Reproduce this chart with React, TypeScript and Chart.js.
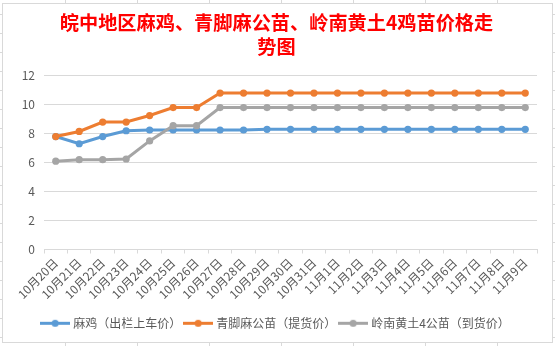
import React, { useEffect, useRef } from "react";
import { Chart, registerables } from "chart.js";

Chart.register(...registerables);

const categories = [
  "10月20日", "10月21日", "10月22日", "10月23日", "10月24日", "10月25日", "10月26日",
  "10月27日", "10月28日", "10月29日", "10月30日", "10月31日", "11月1日", "11月2日",
  "11月3日", "11月4日", "11月5日", "11月6日", "11月7日", "11月8日", "11月9日",
];

const seriesNames = ["麻鸡（出栏上车价）", "青脚麻公苗（提货价）", "岭南黄土4公苗（到货价）"];

const majiValues = [7.8, 7.3, 7.8, 8.2, 8.25, 8.25, 8.25, 8.25, 8.25, 8.3, 8.3, 8.3, 8.3, 8.3, 8.3, 8.3, 8.3, 8.3, 8.3, 8.3, 8.3];
const qingjiaoValues = [7.8, 8.15, 8.8, 8.8, 9.25, 9.8, 9.8, 10.8, 10.8, 10.8, 10.8, 10.8, 10.8, 10.8, 10.8, 10.8, 10.8, 10.8, 10.8, 10.8, 10.8];
const lingnanValues = [6.1, 6.2, 6.2, 6.25, 7.5, 8.55, 8.55, 9.8, 9.8, 9.8, 9.8, 9.8, 9.8, 9.8, 9.8, 9.8, 9.8, 9.8, 9.8, 9.8, 9.8];

const yTickValues = [0, 2, 4, 6, 8, 10, 12];

const titleLines = ["皖中地区麻鸡、青脚麻公苗、岭南黄土4鸡苗价格走", "势图"];

const seriesColors = ["#5B9BD5", "#ED7D31", "#A5A5A5"];

const FONT = "'Noto Sans CJK SC', 'Noto Sans', sans-serif";

function makeIcon(color: string) {
  const c = document.createElement("canvas");
  c.width = 30;
  c.height = 9;
  const ctx = c.getContext("2d")!;
  ctx.strokeStyle = color;
  ctx.lineWidth = 3;
  ctx.beginPath();
  ctx.moveTo(0, 4.5);
  ctx.lineTo(30, 4.5);
  ctx.stroke();
  ctx.fillStyle = color;
  ctx.beginPath();
  ctx.arc(15, 4.5, 3.6, 0, Math.PI * 2);
  ctx.fill();
  return c;
}

export default function App() {
  const ref = useRef<HTMLCanvasElement | null>(null);

  useEffect(() => {
    if (!ref.current) return;
    const values = [majiValues, qingjiaoValues, lingnanValues];
    const icons = seriesColors.map((c) => makeIcon(c));
    const chart = new Chart(ref.current, {
      type: "line",
      data: {
        labels: categories,
        datasets: values.map((v, i) => ({
          label: seriesNames[i],
          data: v,
          borderColor: seriesColors[i],
          backgroundColor: seriesColors[i],
          borderWidth: 3,
          pointRadius: 3.6,
          pointBorderWidth: 0,
          pointBackgroundColor: seriesColors[i],
          tension: 0,
          fill: false,
          order: 2 - i,
        })),
      },
      options: {
        responsive: false,
        animation: false,
        devicePixelRatio: 1,
        layout: { padding: { left: 16, right: 18, top: 0, bottom: 6.7 } },
        plugins: {
          tooltip: { enabled: false },
          title: {
            display: true,
            text: titleLines,
            color: "#FF0000",
            font: { family: FONT, size: 19.2, weight: "bold", lineHeight: 1.25 },
            padding: { top: 10.5, bottom: 17.2 },
          },
          legend: {
            position: "bottom",
            labels: {
              usePointStyle: true,
              pointStyleWidth: 24,
              padding: 5,
              color: "#595959",
              font: { family: FONT, size: 12 },
              generateLabels: () =>
                seriesNames.map((name, i) => ({
                  text: name,
                  fillStyle: seriesColors[i],
                  strokeStyle: seriesColors[i],
                  lineWidth: 0,
                  pointStyle: icons[i] as any,
                  fontColor: "#595959",
                  hidden: false,
                  datasetIndex: i,
                })),
            },
          },
        },
        scales: {
          x: {
            offset: true,
            grid: {
              display: true,
              offset: true,
              drawOnChartArea: false,
              drawTicks: true,
              tickLength: 4,
              color: "#D9D9D9",
            },
            border: { display: true, color: "#D9D9D9" },
            ticks: {
              autoSkip: false,
              maxRotation: 45,
              minRotation: 45,
              padding: 2,
              color: "#595959",
              font: { family: FONT, size: 12 },
            },
            afterFit: (scale: any) => {
              scale.height = 62.8;
            },
          },
          y: {
            min: yTickValues[0],
            max: yTickValues[yTickValues.length - 1],
            ticks: {
              stepSize: yTickValues[1] - yTickValues[0],
              padding: 9,
              color: "#595959",
              font: { family: FONT, size: 12 },
            },
            grid: { color: "#D9D9D9", drawTicks: false },
            border: { display: false },
            afterFit: (scale: any) => {
              scale.width = 28;
            },
          },
        },
      },
    });
    return () => chart.destroy();
  }, []);

  return (
    <div
      style={{
        position: "fixed",
        left: 0,
        top: 0,
        width: 555,
        height: 346,
        overflow: "hidden",
        background: "#fff",
        backgroundImage:
          "linear-gradient(to right, #D9D9D9 1px, transparent 1px), linear-gradient(to bottom, #D9D9D9 1px, transparent 1px)",
        backgroundSize: "72px 100%, 100% 19px",
        backgroundPosition: "65px 0, 0 14px",
      }}
    >
      <div
        style={{
          position: "absolute",
          left: 2,
          top: 3,
          width: 551,
          height: 340,
          border: "1px solid #D9D9D9",
          background: "#fff",
          boxSizing: "border-box",
        }}
      />
      <canvas
        ref={ref}
        width={555}
        height={346}
        style={{ position: "absolute", left: 0, top: 0, width: 555, height: 346 }}
      />
    </div>
  );
}
